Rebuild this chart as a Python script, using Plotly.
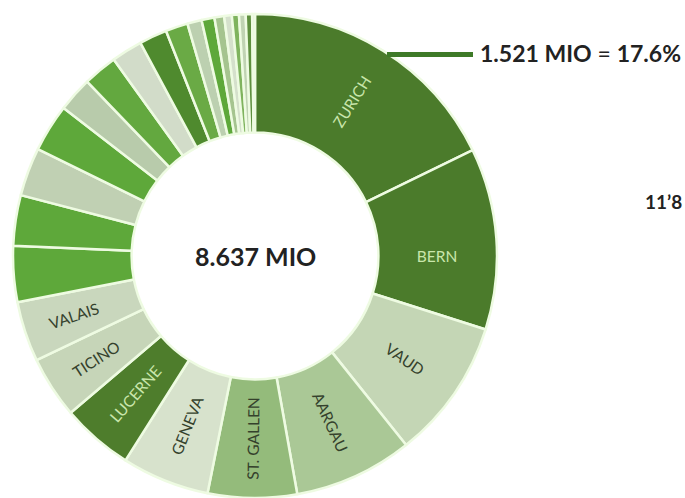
import plotly.graph_objects as go

cantons = ["ZURICH", "BERN", "VAUD", "AARGAU", "ST. GALLEN", "GENEVA", "LUCERNE",
           "TICINO", "VALAIS", "FRIBOURG", "BASEL-LAND", "THURGAU", "SOLOTHURN",
           "GRAUBÜNDEN", "BASEL-STADT", "NEUCHÂTEL", "SCHWYZ", "ZUG", "SCHAFFHAUSEN",
           "JURA", "APPENZELL AR", "NIDWALDEN", "GLARUS", "OBWALDEN", "URI", "APPENZELL IR"]
population = [1520968, 1034977, 799145, 678207, 507697, 499480, 409557,
              353343, 343955, 318714, 288132, 276472, 273194,
              198379, 194766, 176850, 159165, 126837, 81991,
              73419, 55234, 43223, 40403, 37841, 36433, 16145]
shown_labels = ["ZURICH", "BERN", "VAUD", "AARGAU", "ST. GALLEN", "GENEVA", "LUCERNE",
                "TICINO", "VALAIS"]
total_label = "8.637 MIO"
zurich_label = "<b>1.521 MIO</b> = <b>17.6%</b>"
side_label = "<b>11’8</b>"

colors = ["#4b7b2b", "#4b7b2b", "#c4d6b5", "#aac896", "#94bb7b", "#d7e2cc", "#4e7d2c",
          "#c6d5b8", "#c9d7bd", "#5ea83a", "#5ea83a", "#c0d0b3", "#5ea83a",
          "#b8cbab", "#63a83f", "#d2dcc9", "#4f8a2e", "#6aaa45", "#bcd0b0",
          "#5ea83a", "#a5c48f", "#d5e0cc", "#7fb35e", "#c0d3b3", "#5e8f3e", "#e0e8d8"]
light_text = {"ZURICH", "BERN", "LUCERNE"}

texts = [c if c in shown_labels else "" for c in cantons]
text_colors = ["#c9e6ab" if c in light_text else "#34412c" for c in cantons]

W, H = 685, 498
cx, cy, R = 255, 256, 242

fig = go.Figure(go.Pie(
    labels=cantons,
    values=population,
    text=texts,
    textinfo="text",
    textposition="inside",
    insidetextorientation="radial",
    textfont=dict(family="Lato", size=15.5, color=text_colors),
    marker=dict(colors=colors, line=dict(color="#eefbe2", width=2.5)),
    hole=0.51,
    sort=False,
    direction="clockwise",
    rotation=0,
    hoverinfo="skip",
    domain=dict(x=[(cx - R) / W, (cx + R) / W], y=[(H - cy - R) / H, (H - cy + R) / H]),
    showlegend=False,
))

fig.add_shape(type="line", xref="paper", yref="paper",
              x0=387 / W, x1=473 / W, y0=1 - 54.5 / H, y1=1 - 54.5 / H,
              line=dict(color="#3e7a28", width=5))

fig.add_annotation(x=cx / W, y=1 - 256 / H, xref="paper", yref="paper",
                   text="<b>" + total_label + "</b>", showarrow=False,
                   font=dict(family="Lato", size=25, color="#222222"))
fig.add_annotation(x=478 / W, y=1 - 53 / H, xref="paper", yref="paper",
                   xanchor="left", yanchor="middle",
                   text=zurich_label, showarrow=False,
                   font=dict(family="Lato", size=23, color="#222222"))
fig.add_annotation(x=684 / W, y=1 - 202 / H, xref="paper", yref="paper",
                   xanchor="right", yanchor="middle",
                   text=side_label, showarrow=False,
                   font=dict(family="Lato", size=19, color="#222222"))

fig.update_layout(width=W, height=H, margin=dict(l=0, r=0, t=0, b=0),
                  paper_bgcolor="white", plot_bgcolor="white")

fig.write_html("out.html")
